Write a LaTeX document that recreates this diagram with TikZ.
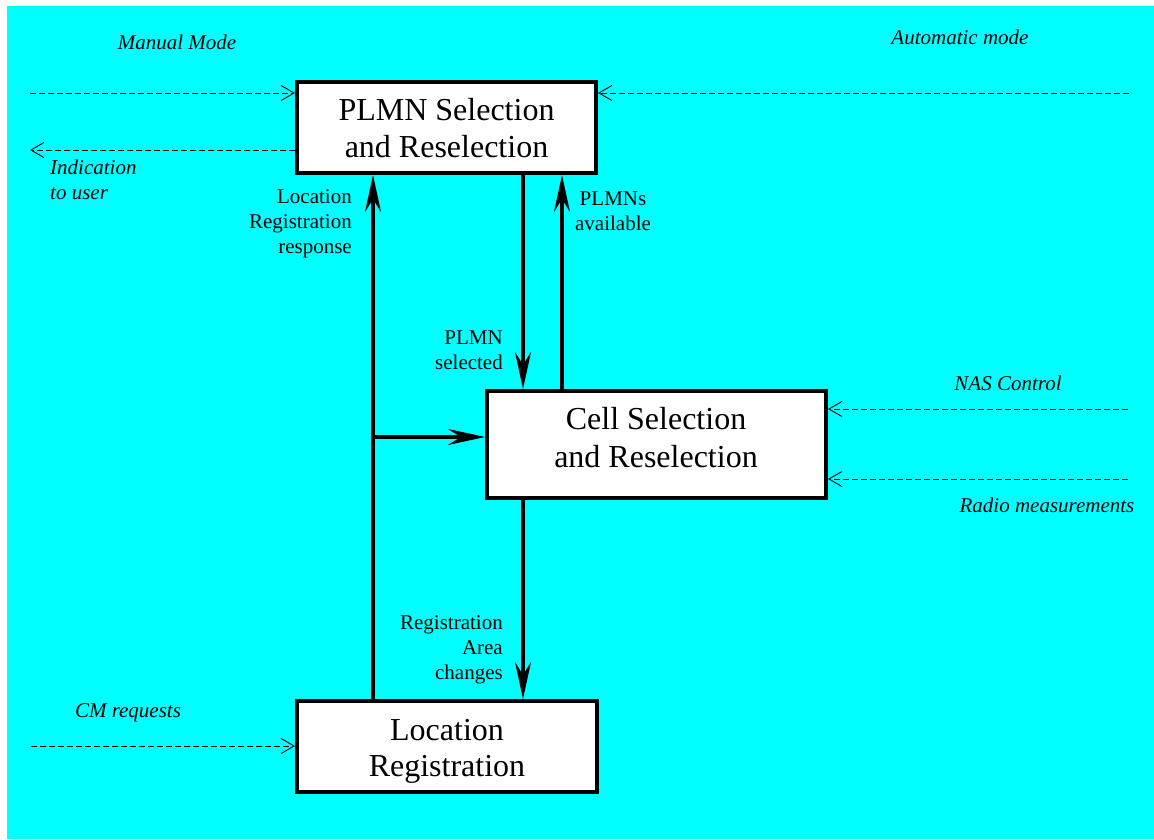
\documentclass[tikz,border=0pt]{standalone}
\usepackage{fontspec}
\setmainfont{Liberation Serif}
\usetikzlibrary{arrows.meta}
\definecolor{bgcyan}{RGB}{0,255,255}
\begin{document}
\begin{tikzpicture}[x=1pt,y=-1pt,
  box/.style={draw=black,fill=white,line width=4pt,rectangle,inner sep=0pt},
  boxtxt/.style={inner sep=0pt,anchor=base,font=\fontsize{32}{38}\selectfont},
  thickarrow/.style={line width=4pt,-{Stealth[length=37pt,width=16pt,inset=13pt]}},
  dasharrow/.style={line width=0.9pt,dash pattern=on 6pt off 3pt,-{Straight Barb[length=13pt,width=15pt,line width=0.9pt]}},
  lbl/.style={inner sep=0pt,font=\fontsize{21}{25}\selectfont},
  ilbl/.style={inner sep=0pt,font=\fontsize{21}{25}\selectfont\itshape}]
\useasboundingbox (0,0) rectangle (1154,839);
\fill[bgcyan] (7,6) rectangle (1154,839);

\node[box,minimum width=299pt,minimum height=91pt] (PLMN) at (446.5,127.5) {};
\node[box,minimum width=339pt,minimum height=107pt] (Cell) at (656.5,444.5) {};
\node[box,minimum width=300pt,minimum height=91pt] (LR) at (447,746.5) {};

\node[boxtxt] (p1) at (446.5,120) {PLMN Selection};
\node[boxtxt] (p2) at (446.5,157) {and Reselection};
\node[boxtxt] (c1) at (656,429) {Cell Selection};
\node[boxtxt] (c2) at (656,467) {and Reselection};
\node[boxtxt] (l1) at (447,740) {Location};
\node[boxtxt] (l2) at (447,776) {Registration};

% thick connectors
\coordinate (lx) at (373,0);
\coordinate (sx) at (523,0);
\coordinate (ax) at (562,0);
\coordinate (br) at (373,437);
\draw[thickarrow] (lx |- LR.north) -- (lx |- PLMN.south);
\draw[thickarrow] (br) -- (br -| Cell.west);
\draw[thickarrow] (sx |- PLMN.south) -- (sx |- Cell.north);
\draw[thickarrow] (ax |- Cell.north) -- (ax |- PLMN.south);
\draw[thickarrow] (sx |- Cell.south) -- (sx |- LR.north);

% labels of thick connectors
\node[lbl,align=right,anchor=east] (lrr) at (352,224) {Location\\Registration\\response};
\node[lbl,align=center] (pa) at (613,211) {PLMNs\\available};
\node[lbl,align=right,anchor=east] (ps) at (503,350) {PLMN\\selected};
\node[lbl,align=right,anchor=east] (rac) at (503,650) {Registration\\Area\\changes};

% dashed inputs
\coordinate (mm) at (30,93);
\coordinate (iu) at (30,150);
\coordinate (am) at (1129,93);
\coordinate (nc) at (1128,409);
\coordinate (rm) at (1128,479);
\coordinate (cm) at (31,746);
\draw[dasharrow] (mm) -- (mm -| PLMN.west);
\draw[dasharrow] (iu -| PLMN.west) -- (iu);
\draw[dasharrow] (am) -- (am -| PLMN.east);
\draw[dasharrow] (nc) -- (nc -| Cell.east);
\draw[dasharrow] (rm) -- (rm -| Cell.east);
\draw[dasharrow] (cm) -- (cm -| LR.west);

% italic labels
\node[ilbl] (mmt) at (177,42) {Manual Mode};
\node[ilbl,align=left,anchor=north west] (iut) at (50,160) {Indication\\to user};
\node[ilbl] (amt) at (960,37) {Automatic mode};
\node[ilbl] (nct) at (1008,383) {NAS Control};
\node[ilbl] (rmt) at (1047,505) {Radio measurements};
\node[ilbl] (cmt) at (128,713) {CM requests};
\end{tikzpicture}
\end{document}
